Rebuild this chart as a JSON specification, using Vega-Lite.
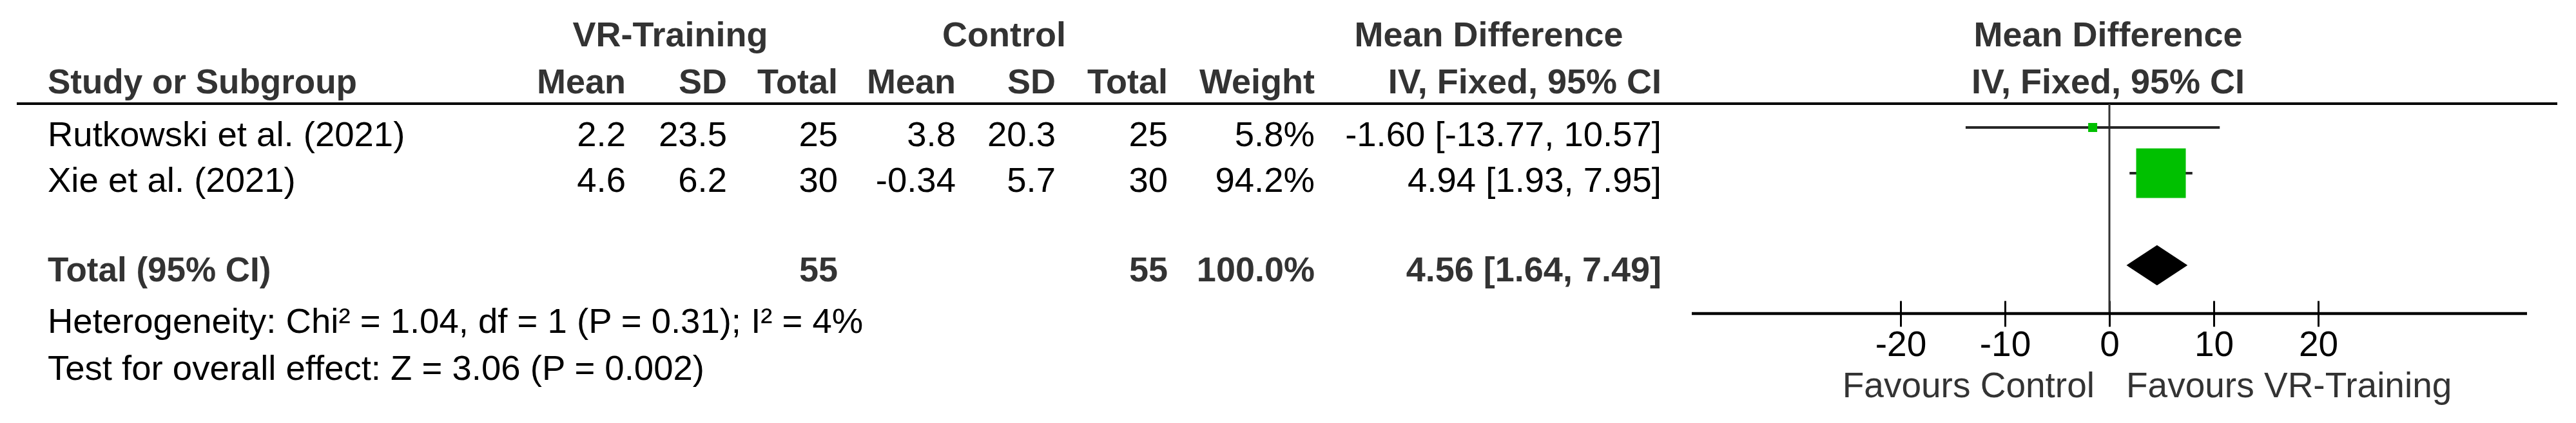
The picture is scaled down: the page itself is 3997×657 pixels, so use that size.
{
  "$schema": "https://vega.github.io/schema/vega-lite/v6.json",
  "width": 3997,
  "height": 657,
  "padding": 0,
  "autosize": {"type": "none"},
  "background": "white",
  "config": {"view": {"stroke": null}},
  "datasets": {
    "cells": [
      {"row": "h1", "col": "grp_vr", "text": "VR-Training"},
      {"row": "h1", "col": "grp_c", "text": "Control"},
      {"row": "h1", "col": "grp_md", "text": "Mean Difference"},
      {"row": "h1", "col": "plot", "text": "Mean Difference"},
      {"row": "h2", "col": "study", "text": "Study or Subgroup"},
      {"row": "h2", "col": "vr_mean", "text": "Mean"},
      {"row": "h2", "col": "vr_sd", "text": "SD"},
      {"row": "h2", "col": "vr_n", "text": "Total"},
      {"row": "h2", "col": "c_mean", "text": "Mean"},
      {"row": "h2", "col": "c_sd", "text": "SD"},
      {"row": "h2", "col": "c_n", "text": "Total"},
      {"row": "h2", "col": "weight", "text": "Weight"},
      {"row": "h2", "col": "md_ci", "text": "IV, Fixed, 95% CI"},
      {"row": "h2", "col": "plot", "text": "IV, Fixed, 95% CI"},
      {"row": "Rutkowski et al. (2021)", "col": "study", "text": "Rutkowski et al. (2021)"},
      {"row": "Rutkowski et al. (2021)", "col": "vr_mean", "text": "2.2"},
      {"row": "Rutkowski et al. (2021)", "col": "vr_sd", "text": "23.5"},
      {"row": "Rutkowski et al. (2021)", "col": "vr_n", "text": "25"},
      {"row": "Rutkowski et al. (2021)", "col": "c_mean", "text": "3.8"},
      {"row": "Rutkowski et al. (2021)", "col": "c_sd", "text": "20.3"},
      {"row": "Rutkowski et al. (2021)", "col": "c_n", "text": "25"},
      {"row": "Rutkowski et al. (2021)", "col": "weight", "text": "5.8%"},
      {"row": "Rutkowski et al. (2021)", "col": "md_ci", "text": "-1.60 [-13.77, 10.57]"},
      {"row": "Xie et al. (2021)", "col": "study", "text": "Xie et al. (2021)"},
      {"row": "Xie et al. (2021)", "col": "vr_mean", "text": "4.6"},
      {"row": "Xie et al. (2021)", "col": "vr_sd", "text": "6.2"},
      {"row": "Xie et al. (2021)", "col": "vr_n", "text": "30"},
      {"row": "Xie et al. (2021)", "col": "c_mean", "text": "-0.34"},
      {"row": "Xie et al. (2021)", "col": "c_sd", "text": "5.7"},
      {"row": "Xie et al. (2021)", "col": "c_n", "text": "30"},
      {"row": "Xie et al. (2021)", "col": "weight", "text": "94.2%"},
      {"row": "Xie et al. (2021)", "col": "md_ci", "text": "4.94 [1.93, 7.95]"},
      {"row": "Total (95% CI)", "col": "study", "text": "Total (95% CI)"},
      {"row": "Total (95% CI)", "col": "vr_n", "text": "55"},
      {"row": "Total (95% CI)", "col": "c_n", "text": "55"},
      {"row": "Total (95% CI)", "col": "weight", "text": "100.0%"},
      {"row": "Total (95% CI)", "col": "md_ci", "text": "4.56 [1.64, 7.49]"},
      {"row": "het", "col": "study", "text": "Heterogeneity: Chi² = 1.04, df = 1 (P = 0.31); I² = 4%"},
      {"row": "test", "col": "study", "text": "Test for overall effect: Z = 3.06 (P = 0.002)"},
      {"row": "favours", "col": "favL", "text": "Favours Control"},
      {"row": "favours", "col": "favR", "text": "Favours VR-Training"}
    ],
    "studies": [
      {"study": "Rutkowski et al. (2021)", "md": -1.60, "lo": -13.77, "hi": 10.57, "weight": 5.8},
      {"study": "Xie et al. (2021)", "md": 4.94, "lo": 1.93, "hi": 7.95, "weight": 94.2},
      {"study": "Total (95% CI)", "md": 4.56, "lo": 1.64, "hi": 7.49, "weight": 100.0}
    ]
  },
  "resolve": {"scale": {"x": "independent"}},
  "layer": [
    {
      "layer": [
        {
          "data": {"values": [{"line": "header rule"}]},
          "mark": {"type": "rule", "color": "black", "strokeWidth": 4},
          "encoding": {
            "x": {"datum": 0, "type": "quantitative", "scale": {"domain": [0,1,2,3,4,5,6,7,8,9,10,11,12,13,14,15,16], "range": [26,74,971,1128,1300,1483,1638,1812,2040,2578,3968,1040,1558,2310,3271,3250,3299], "nice": false, "zero": false}, "axis": null},
            "x2": {"datum": 10},
            "y": {"datum": 2, "type": "quantitative", "scale": {"domain": [0,1,2,3,4,5,6,7,8,9,10], "range": [72,145,161,227,298,437,487,517,553,590,617], "nice": false, "zero": false}, "axis": null}
          }
        },
        {
          "data": {"name": "cells"},
          "transform": [
            {"calculate": "indexof(['edgeL','study','vr_mean','vr_sd','vr_n','c_mean','c_sd','c_n','weight','md_ci','edgeR','grp_vr','grp_c','grp_md','plot','favL','favR'], datum.col)", "as": "ci"},
            {"calculate": "indexof(['h1','h2','sep','Rutkowski et al. (2021)','Xie et al. (2021)','Total (95% CI)','axis','het','ticks','test','favours'], datum.row)", "as": "ri"},
            {"calculate": "indexof(['h1','h2','Total (95% CI)'], datum.row) >= 0", "as": "isBold"},
            {"calculate": "indexof(['vr_mean','vr_sd','vr_n','c_mean','c_sd','c_n','weight','md_ci'], datum.col) >= 0", "as": "isRight"}
          ],
          "encoding": {
            "x": {"field": "ci", "type": "quantitative", "scale": {"domain": [0,1,2,3,4,5,6,7,8,9,10,11,12,13,14,15,16], "range": [26,74,971,1128,1300,1483,1638,1812,2040,2578,3968,1040,1558,2310,3271,3250,3299], "nice": false, "zero": false}, "axis": null},
            "y": {"field": "ri", "type": "quantitative", "scale": {"domain": [0,1,2,3,4,5,6,7,8,9,10], "range": [72,145,161,227,298,437,487,517,553,590,617], "nice": false, "zero": false}, "axis": null},
            "text": {"field": "text"}
          },
          "layer": [
            {
              "transform": [{"filter": "!datum.isBold && datum.col === 'study'"}],
              "mark": {"type": "text", "align": "left", "baseline": "alphabetic", "font": "Liberation Sans", "fontSize": 54.5, "color": "black"}
            },
            {
              "transform": [{"filter": "datum.isBold && datum.col === 'study'"}],
              "mark": {"type": "text", "align": "left", "baseline": "alphabetic", "font": "Liberation Sans", "fontSize": 53, "fontWeight": "bold", "color": "#333333"}
            },
            {
              "transform": [{"filter": "!datum.isBold && datum.isRight"}],
              "mark": {"type": "text", "align": "right", "baseline": "alphabetic", "font": "Liberation Sans", "fontSize": 54.5, "color": "black"}
            },
            {
              "transform": [{"filter": "datum.isBold && datum.isRight"}],
              "mark": {"type": "text", "align": "right", "baseline": "alphabetic", "font": "Liberation Sans", "fontSize": 54, "fontWeight": "bold", "color": "#333333"}
            },
            {
              "transform": [{"filter": "indexof(['grp_vr','grp_c','grp_md','plot'], datum.col) >= 0"}],
              "mark": {"type": "text", "align": "center", "baseline": "alphabetic", "font": "Liberation Sans", "fontSize": 54, "fontWeight": "bold", "color": "#333333"}
            },
            {
              "transform": [{"filter": "datum.col === 'favL'"}],
              "mark": {"type": "text", "align": "right", "baseline": "alphabetic", "font": "Liberation Sans", "fontSize": 55, "color": "#333333"}
            },
            {
              "transform": [{"filter": "datum.col === 'favR'"}],
              "mark": {"type": "text", "align": "left", "baseline": "alphabetic", "font": "Liberation Sans", "fontSize": 55, "color": "#333333"}
            }
          ]
        }
      ]
    },
    {
      "layer": [
        {
          "data": {"values": [{"ref": 0}]},
          "mark": {"type": "rule", "color": "#333333", "strokeWidth": 3},
          "encoding": {
            "x": {"field": "ref", "type": "quantitative", "scale": {"domain": [-40, 40], "range": [2625, 3921], "nice": false, "zero": false}, "axis": {"title": null, "orient": "bottom", "offset": -190, "values": [-20, -10, 0, 10, 20], "domain": false, "grid": false, "ticks": true, "tickSize": 40, "tickWidth": 3, "tickColor": "black", "labelFont": "Liberation Sans", "labelFontSize": 55, "labelColor": "black", "labelPadding": 2, "labelFlush": false, "labelOverlap": false, "labelExpr": "datum.value < 0 ? '-' + abs(datum.value) : '' + datum.value"}},
            "y": {"datum": 2, "type": "quantitative", "scale": {"domain": [0,1,2,3,4,5,6,7,8,9,10], "range": [72,145,161,227,298,437,487,517,553,590,617], "nice": false, "zero": false}, "axis": null},
            "y2": {"datum": 6}
          }
        },
        {
          "data": {"values": [{"from": -40, "to": 40}]},
          "mark": {"type": "rule", "color": "black", "strokeWidth": 4.5},
          "encoding": {
            "x": {"field": "from", "type": "quantitative", "scale": {"domain": [-40, 40], "range": [2625, 3921], "nice": false, "zero": false}, "axis": {"title": null, "orient": "bottom", "offset": -190, "values": [-20, -10, 0, 10, 20], "domain": false, "grid": false, "ticks": true, "tickSize": 40, "tickWidth": 3, "tickColor": "black", "labelFont": "Liberation Sans", "labelFontSize": 55, "labelColor": "black", "labelPadding": 2, "labelFlush": false, "labelOverlap": false, "labelExpr": "datum.value < 0 ? '-' + abs(datum.value) : '' + datum.value"}},
            "x2": {"field": "to"},
            "y": {"datum": 6, "type": "quantitative", "scale": {"domain": [0,1,2,3,4,5,6,7,8,9,10], "range": [72,145,161,227,298,437,487,517,553,590,617], "nice": false, "zero": false}, "axis": null}
          }
        },
        {
          "data": {"name": "studies"},
          "transform": [
            {"calculate": "indexof(['h1','h2','sep','Rutkowski et al. (2021)','Xie et al. (2021)','Total (95% CI)','axis','het','ticks','test','favours'], datum.study)", "as": "ri"}
          ],
          "encoding": {
            "y": {"field": "ri", "type": "quantitative", "scale": {"domain": [0,1,2,3,4,5,6,7,8,9,10], "range": [72,145,161,227,298,437,487,517,553,590,617], "nice": false, "zero": false}, "axis": null}
          },
          "layer": [
            {
              "transform": [{"filter": "datum.study !== 'Total (95% CI)'"}],
              "mark": {"type": "rule", "color": "#262626", "strokeWidth": 4, "yOffset": -29},
              "encoding": {
                "x": {"field": "lo", "type": "quantitative", "scale": {"domain": [-40, 40], "range": [2625, 3921], "nice": false, "zero": false}, "axis": {"title": null, "orient": "bottom", "offset": -190, "values": [-20, -10, 0, 10, 20], "domain": false, "grid": false, "ticks": true, "tickSize": 40, "tickWidth": 3, "tickColor": "black", "labelFont": "Liberation Sans", "labelFontSize": 55, "labelColor": "black", "labelPadding": 2, "labelFlush": false, "labelOverlap": false, "labelExpr": "datum.value < 0 ? '-' + abs(datum.value) : '' + datum.value"}},
                "x2": {"field": "hi"}
              }
            },
            {
              "transform": [{"filter": "datum.study !== 'Total (95% CI)'"}],
              "mark": {"type": "point", "shape": "square", "filled": true, "color": "#00c000", "opacity": 1, "yOffset": -29},
              "encoding": {
                "x": {"field": "md", "type": "quantitative", "scale": {"domain": [-40, 40], "range": [2625, 3921], "nice": false, "zero": false}, "axis": {"title": null, "orient": "bottom", "offset": -190, "values": [-20, -10, 0, 10, 20], "domain": false, "grid": false, "ticks": true, "tickSize": 40, "tickWidth": 3, "tickColor": "black", "labelFont": "Liberation Sans", "labelFontSize": 55, "labelColor": "black", "labelPadding": 2, "labelFlush": false, "labelOverlap": false, "labelExpr": "datum.value < 0 ? '-' + abs(datum.value) : '' + datum.value"}},
                "size": {"field": "weight", "type": "quantitative", "scale": {"domain": [5.8, 94.2], "range": [196, 5929], "zero": false}, "legend": null}
              }
            },
            {
              "transform": [{"filter": "datum.study === 'Total (95% CI)'"}],
              "mark": {"type": "point", "shape": "M-1,0L0,-0.66L1,0L0,0.66Z", "filled": true, "color": "black", "opacity": 1, "size": 8987, "yOffset": -25},
              "encoding": {
                "x": {"field": "md", "type": "quantitative", "scale": {"domain": [-40, 40], "range": [2625, 3921], "nice": false, "zero": false}, "axis": {"title": null, "orient": "bottom", "offset": -190, "values": [-20, -10, 0, 10, 20], "domain": false, "grid": false, "ticks": true, "tickSize": 40, "tickWidth": 3, "tickColor": "black", "labelFont": "Liberation Sans", "labelFontSize": 55, "labelColor": "black", "labelPadding": 2, "labelFlush": false, "labelOverlap": false, "labelExpr": "datum.value < 0 ? '-' + abs(datum.value) : '' + datum.value"}}
              }
            }
          ]
        }
      ]
    }
  ]
}
